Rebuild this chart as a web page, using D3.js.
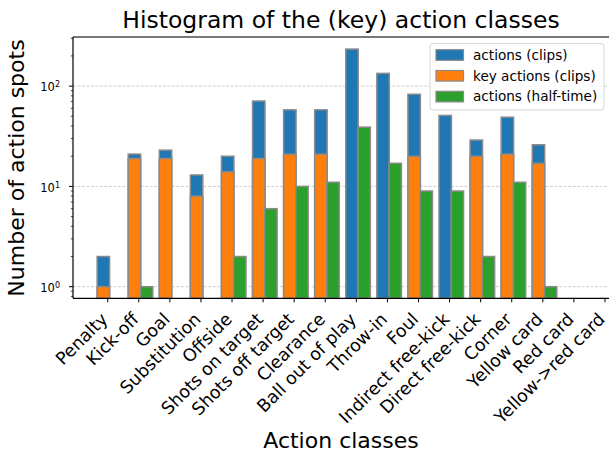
<!DOCTYPE html>
<html>
<head>
<meta charset="utf-8">
<script src="https://cdn.jsdelivr.net/npm/d3@7.9.0/dist/d3.min.js"></script>
<style>
  body { margin: 0; background: #fff; }
  text { font-family: "DejaVu Sans", sans-serif; fill: #000; }
</style>
</head>
<body>
<svg id="chart" width="609" height="453"></svg>
<script>
const categories = ['Penalty', 'Kick-off', 'Goal', 'Substitution', 'Offside', 'Shots on target',
  'Shots off target', 'Clearance', 'Ball out of play', 'Throw-in', 'Foul', 'Indirect free-kick',
  'Direct free-kick', 'Corner', 'Yellow card', 'Red card', 'Yellow->red card'];
const actionsClips = [2, 21, 23, 13, 20, 71, 58, 58, 234, 134, 83, 51, 29, 49, 26, 0, 0];
const keyActionsClips = [1, 19, 19, 8, 14, 19, 21, 21, 0, 0, 20, 0, 20, 21, 17, 0, 0];
const actionsHalfTime = [0, 1, 0, 0, 2, 6, 10, 11, 39, 17, 9, 9, 2, 11, 1, 0, 0];
const yTicks = [1, 10, 100];
const seriesNames = ['actions (clips)', 'key actions (clips)', 'actions (half-time)'];
const colors = ['#1f77b4', '#ff7f0e', '#2ca02c'];

const svg = d3.select('#chart');
const plotLeft = 73, plotTop = 37, plotBottom = 298.3;

let x = d3.scaleLinear().domain([-1.117, 16.22]).range([plotLeft, 611.8]);
let y = d3.scaleLog().domain([0.766, 309]).range([plotBottom, plotTop]);

// grid lines (behind bars)
svg.append('g')
  .selectAll('line')
  .data(yTicks)
  .join('line')
  .attr('x1', plotLeft).attr('x2', 612)
  .attr('y1', d => y(d)).attr('y2', d => y(d))
  .attr('stroke', '#c4c4c4').attr('stroke-width', 0.8)
  .attr('stroke-dasharray', '3,1.5');

// bars
const barW = 0.4;
const series = [
  { vals: actionsClips, off: -0.14, color: colors[0] },
  { vals: keyActionsClips, off: -0.14, color: colors[1] },
  { vals: actionsHalfTime, off: 0.25, color: colors[2] },
];
series.forEach((s) => {
  svg.append('g')
    .selectAll('rect')
    .data(s.vals.map((v, i) => ({ v, i })).filter(d => d.v > 0))
    .join('rect')
    .attr('x', d => x(d.i + s.off - barW / 2))
    .attr('width', d => x(d.i + s.off + barW / 2) - x(d.i + s.off - barW / 2))
    .attr('y', d => y(d.v))
    .attr('height', d => plotBottom - y(d.v))
    .attr('fill', s.color)
    .attr('stroke', '#8a8a8a')
    .attr('stroke-width', 1.5);
});

// spines
svg.append('line').attr('x1', plotLeft).attr('x2', 612).attr('y1', plotTop).attr('y2', plotTop)
  .attr('stroke', '#777').attr('stroke-width', 2);
svg.append('line').attr('x1', plotLeft).attr('x2', 612).attr('y1', plotBottom).attr('y2', plotBottom)
  .attr('stroke', '#000').attr('stroke-width', 1.2);
svg.append('line').attr('x1', plotLeft).attr('x2', plotLeft).attr('y1', plotTop).attr('y2', plotBottom)
  .attr('stroke', '#000').attr('stroke-width', 1.2);

// x ticks and labels
const xg = svg.append('g');
categories.forEach((c, i) => {
  xg.append('line').attr('x1', x(i)).attr('x2', x(i)).attr('y1', plotBottom).attr('y2', plotBottom + 4)
    .attr('stroke', '#000').attr('stroke-width', 1);
  xg.append('text')
    .attr('transform', `translate(${x(i) + 1},${plotBottom + 22}) rotate(-45)`)
    .attr('text-anchor', 'end')
    .style('font-size', '17.5px')
    .text(c);
});

// y ticks
const yg = svg.append('g');
const minor = [];
[0.1, 1, 10, 100].forEach(b => { for (let k = 2; k <= 9; k++) minor.push(b * k); });
minor.filter(v => v >= 0.766 && v <= 309).forEach(v => {
  yg.append('line').attr('x1', plotLeft - 2.2).attr('x2', plotLeft).attr('y1', y(v)).attr('y2', y(v))
    .attr('stroke', '#000').attr('stroke-width', 0.7);
});
yTicks.forEach((v) => {
  yg.append('line').attr('x1', plotLeft - 4).attr('x2', plotLeft).attr('y1', y(v)).attr('y2', y(v))
    .attr('stroke', '#000').attr('stroke-width', 1);
  const t = yg.append('text')
    .attr('x', plotLeft - 13).attr('y', y(v)).attr('dy', '0.45em')
    .attr('text-anchor', 'end').style('font-size', '11.5px');
  t.append('tspan').text('10');
  t.append('tspan').attr('dy', '-0.5em').style('font-size', '8px').text(Math.log10(v));
});

// titles
svg.append('text').attr('x', 341).attr('y', 28).attr('text-anchor', 'middle')
  .style('font-size', '23.5px').text('Histogram of the (key) action classes');
svg.append('text').attr('x', 341).attr('y', 448).attr('text-anchor', 'middle')
  .style('font-size', '22px').text('Action classes');
svg.append('text').attr('transform', 'translate(23.5,168) rotate(-90)').attr('text-anchor', 'middle')
  .style('font-size', '22px').text('Number of action spots');

// legend
const lg = svg.append('g');
lg.append('rect').attr('x', 430).attr('y', 43.5).attr('width', 174).attr('height', 66.5)
  .attr('rx', 3).attr('fill', 'rgba(255,255,255,0.8)').attr('stroke', '#d6d6d6').attr('stroke-width', 1);
seriesNames.forEach((n, k) => {
  const cy = 55 + k * 20.8;
  lg.append('rect').attr('x', 436).attr('y', cy - 5.3).attr('width', 27.5).attr('height', 10.6)
    .attr('fill', colors[k]).attr('stroke', '#8a8a8a').attr('stroke-width', 1.2);
  lg.append('text').attr('x', 473).attr('y', cy).attr('dy', '0.36em')
    .style('font-size', '13.6px').text(n);
});
</script>
</body>
</html>
